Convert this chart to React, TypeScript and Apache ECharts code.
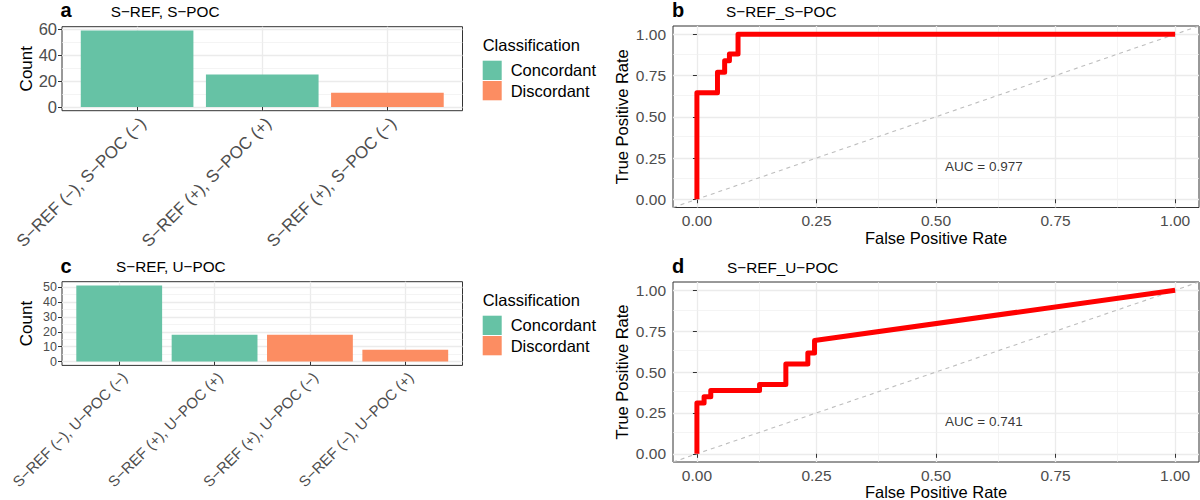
import React, { useEffect, useRef } from "react";
import * as echarts from "echarts";

// ---------- data ----------
const catsA = ["S−REF (−), S−POC (−)", "S−REF (+), S−POC (+)", "S−REF (+), S−POC (−)"];
const countsA = [59, 25, 11];
const classA = ["Concordant", "Concordant", "Discordant"];

const catsC = ["S−REF (−), U−POC (−)", "S−REF (+), U−POC (+)", "S−REF (+), U−POC (−)", "S−REF (−), U−POC (+)"];
const countsC = [51, 18, 18, 8];
const classC = ["Concordant", "Concordant", "Discordant", "Discordant"];

const classes = ["Concordant", "Discordant"];
const classColors = ["#66C2A5", "#FC8D62"];

const ticksA = [0, 20, 40, 60];
const minorA = [10, 30, 50];
const ticksC = [0, 10, 20, 30, 40, 50];
const minorC = [5, 15, 25, 35, 45];

const rocTicks = [0, 0.25, 0.5, 0.75, 1];
const rocMinor = [0.125, 0.375, 0.625, 0.875];

const rocBx = [0, 0, 0.043, 0.043, 0.058, 0.058, 0.068, 0.068, 0.086, 0.086, 1];
const rocBy = [0, 0.645, 0.645, 0.77, 0.77, 0.84, 0.84, 0.88, 0.88, 1, 1];

const rocDx = [0, 0, 0.015, 0.015, 0.029, 0.029, 0.131, 0.131, 0.186, 0.186, 0.232, 0.232, 0.246, 0.246, 1];
const rocDy = [0, 0.31, 0.31, 0.348, 0.348, 0.387, 0.387, 0.423, 0.423, 0.549, 0.549, 0.616, 0.616, 0.692, 1];

const diagonal = [-0.05, 1.05];
const aucB = "AUC = 0.977";
const aucD = "AUC = 0.741";
const aucPos = [0.6, 0.2];

// ---------- styles ----------
const FONT = "Liberation Sans";
const MAJOR = { color: "#EBEBEB", width: 1.3 };
const MINOR = { color: "#EFEFEF", width: 0.7 };
const TICK_COLOR = "#333333";
const LABEL_COLOR = "#4D4D4D";
const BAR_HALF = 0.45;

function barXAxis(gridIndex: number, cats: string[], fontSize: number) {
  const vals = cats.map((_, i) => i + 1);
  return {
    type: "value",
    gridIndex,
    min: 0.4,
    max: cats.length + 0.6,
    interval: 0.2,
    axisLine: { show: false },
    axisTick: { show: true, customValues: vals, length: 4, lineStyle: { color: TICK_COLOR } },
    axisLabel: {
      customValues: vals,
      rotate: 45,
      align: "right",
      verticalAlign: "top",
      margin: 4,
      fontSize,
      color: LABEL_COLOR,
      fontFamily: FONT,
      showMinLabel: true,
      showMaxLabel: true,
      formatter: (v: number) => cats[Math.round(v) - 1] ?? "",
    },
    splitLine: { show: true, lineStyle: MAJOR },
  };
}

function barYAxis(gridIndex: number, ticks: number[], maxVal: number, fontSize: number) {
  return {
    type: "value",
    gridIndex,
    min: -maxVal * 0.05,
    max: maxVal * 1.05,
    name: "Count",
    nameLocation: "middle",
    nameGap: 27.5,
    nameTextStyle: { fontSize: 17, color: "#000", fontFamily: FONT },
    axisLine: { show: false },
    axisTick: { show: true, customValues: ticks, length: 4, lineStyle: { color: TICK_COLOR } },
    axisLabel: {
      customValues: ticks,
      margin: 5,
      fontSize,
      color: LABEL_COLOR,
      fontFamily: FONT,
      showMinLabel: true,
      showMaxLabel: true,
      hideOverlap: false,
    },
    splitLine: { show: true, lineStyle: MAJOR },
  };
}

function rocAxis(gridIndex: number, dim: "x" | "y", nameGap: number) {
  return {
    type: "value",
    gridIndex,
    min: -0.05,
    max: 1.05,
    name: dim === "x" ? "False Positive Rate" : "True Positive Rate",
    nameLocation: "middle",
    nameGap,
    nameTextStyle: { fontSize: 16.5, color: "#000", fontFamily: FONT },
    axisLine: { show: false },
    axisTick: { show: true, customValues: rocTicks, length: 4, lineStyle: { color: TICK_COLOR } },
    axisLabel: {
      customValues: rocTicks,
      margin: dim === "x" ? 5 : 7,
      fontSize: 15.5,
      color: LABEL_COLOR,
      fontFamily: FONT,
      showMinLabel: true,
      showMaxLabel: true,
      formatter: (v: number) => v.toFixed(2),
    },
    splitLine: { show: true, lineStyle: MAJOR },
  };
}

function minorGrid(idx: number, minorY: number[], minorX: number[]) {
  return {
    type: "line",
    xAxisIndex: idx,
    yAxisIndex: idx,
    data: [],
    z: 1,
    silent: true,
    markLine: {
      z: 1,
      silent: true,
      symbol: ["none", "none"],
      label: { show: false },
      animation: false,
      lineStyle: { ...MINOR, type: "solid" },
      emphasis: { disabled: true },
      data: [...minorY.map((v) => ({ yAxis: v })), ...minorX.map((v) => ({ xAxis: v }))],
    },
  };
}

function barSeries(idx: number, counts: number[], cls: string[]) {
  return classes.map((c, k) => ({
    type: "custom",
    name: c,
    xAxisIndex: idx,
    yAxisIndex: idx,
    z: 2,
    silent: true,
    itemStyle: { color: classColors[k] },
    encode: { x: 0, y: 1 },
    data: counts.map((v, i) => [i + 1, v]).filter((_, i) => cls[i] === c),
    renderItem: (params: any, api: any) => {
      const x = api.value(0);
      const y = api.value(1);
      const p0 = api.coord([x - BAR_HALF, 0]);
      const p1 = api.coord([x + BAR_HALF, y]);
      return {
        type: "rect",
        shape: { x: p0[0], y: p1[1], width: p1[0] - p0[0], height: p0[1] - p1[1] },
        style: { fill: classColors[k] },
      };
    },
  }));
}

function rocSeries(idx: number, xs: number[], ys: number[], auc: string) {
  return [
    {
      type: "line",
      xAxisIndex: idx,
      yAxisIndex: idx,
      z: 3,
      symbol: "none",
      silent: true,
      lineStyle: { color: "#BEBEBE", width: 1.1, type: [4, 4] },
      data: diagonal.map((v) => [v, v]),
    },
    {
      type: "line",
      xAxisIndex: idx,
      yAxisIndex: idx,
      z: 4,
      symbol: "none",
      silent: true,
      lineStyle: { color: "#FF0000", width: 5, join: "round", cap: "butt" },
      data: xs.map((x, i) => [x, ys[i]]),
    },
    {
      type: "scatter",
      xAxisIndex: idx,
      yAxisIndex: idx,
      z: 5,
      symbolSize: 0.1,
      silent: true,
      itemStyle: { color: "transparent" },
      label: {
        show: true,
        position: "inside",
        formatter: auc,
        fontSize: 13.5,
        color: "#000",
        fontFamily: FONT,
      },
      data: [aucPos],
    },
  ];
}

function titleText(text: string, left: number, top: number, size: number, bold: boolean) {
  return {
    text,
    left,
    top,
    padding: 0,
    textStyle: { fontSize: size, fontWeight: bold ? "bold" : "normal", color: "#000", fontFamily: FONT },
  };
}

function legendFor(top: number) {
  return {
    data: classes.map((c, k) => ({ name: c, itemStyle: { color: classColors[k] } })),
    orient: "vertical",
    left: 482.7,
    top,
    padding: 0,
    itemWidth: 19,
    itemHeight: 19.3,
    itemGap: 1,
    icon: "rect",
    selectedMode: false,
    textStyle: { fontSize: 16.5, color: "#000", fontFamily: FONT, padding: [0, 0, 0, 4] },
  };
}

export default function App() {
  const ref = useRef<HTMLDivElement>(null);
  useEffect(() => {
    if (!ref.current) return;
    const chart = echarts.init(ref.current, null, { renderer: "svg" });
    const gridBase = {
      show: true,
      borderColor: "#333333",
      borderWidth: 1,
      backgroundColor: "#FFFFFF",
      containLabel: false,
      outerBoundsMode: "none",
    };
    const option: any = {
      animation: false,
      textStyle: { fontFamily: FONT },
      backgroundColor: "#FFFFFF",
      title: [
        titleText("a", 60.5, 0, 20, true),
        titleText("S−REF, S−POC", 110.7, 4.3, 15.3, false),
        titleText("c", 60.5, 256, 20, true),
        titleText("S−REF, U−POC", 116, 259, 15.3, false),
        titleText("b", 672, 0, 20, true),
        titleText("S−REF_S−POC", 726, 3.7, 15.3, false),
        titleText("d", 672, 256, 20, true),
        titleText("S−REF_U−POC", 727, 259.6, 15.3, false),
        titleText("Classification", 482.7, 36, 16.5, false),
        titleText("Classification", 482.7, 291, 16.5, false),
      ],
      legend: [legendFor(60.7), legendFor(315.7)],
      grid: [
        { ...gridBase, left: 62, top: 26.7, width: 400.5, height: 84 },
        { ...gridBase, left: 62, top: 281.7, width: 400.5, height: 83.7 },
        { ...gridBase, left: 673, top: 26, width: 526, height: 181.5 },
        { ...gridBase, left: 673, top: 282, width: 526, height: 180 },
      ],
      xAxis: [barXAxis(0, catsA, 17), barXAxis(1, catsC, 15), rocAxis(2, "x", 22), rocAxis(3, "x", 19)],
      yAxis: [
        barYAxis(0, ticksA, Math.max(...countsA), 16.5),
        barYAxis(1, ticksC, Math.max(...countsC), 12.5),
        rocAxis(2, "y", 43),
        rocAxis(3, "y", 43),
      ],
      series: [
        minorGrid(0, minorA, []),
        minorGrid(1, minorC, []),
        minorGrid(2, rocMinor, rocMinor),
        minorGrid(3, rocMinor, rocMinor),
        ...barSeries(0, countsA, classA),
        ...barSeries(1, countsC, classC),
        ...rocSeries(2, rocBx, rocBy, aucB),
        ...rocSeries(3, rocDx, rocDy, aucD),
      ],
    };
    chart.setOption(option);
    return () => chart.dispose();
  }, []);
  return <div ref={ref} style={{ position: "absolute", left: 0, top: 0, width: 1200, height: 500 }} />;
}
